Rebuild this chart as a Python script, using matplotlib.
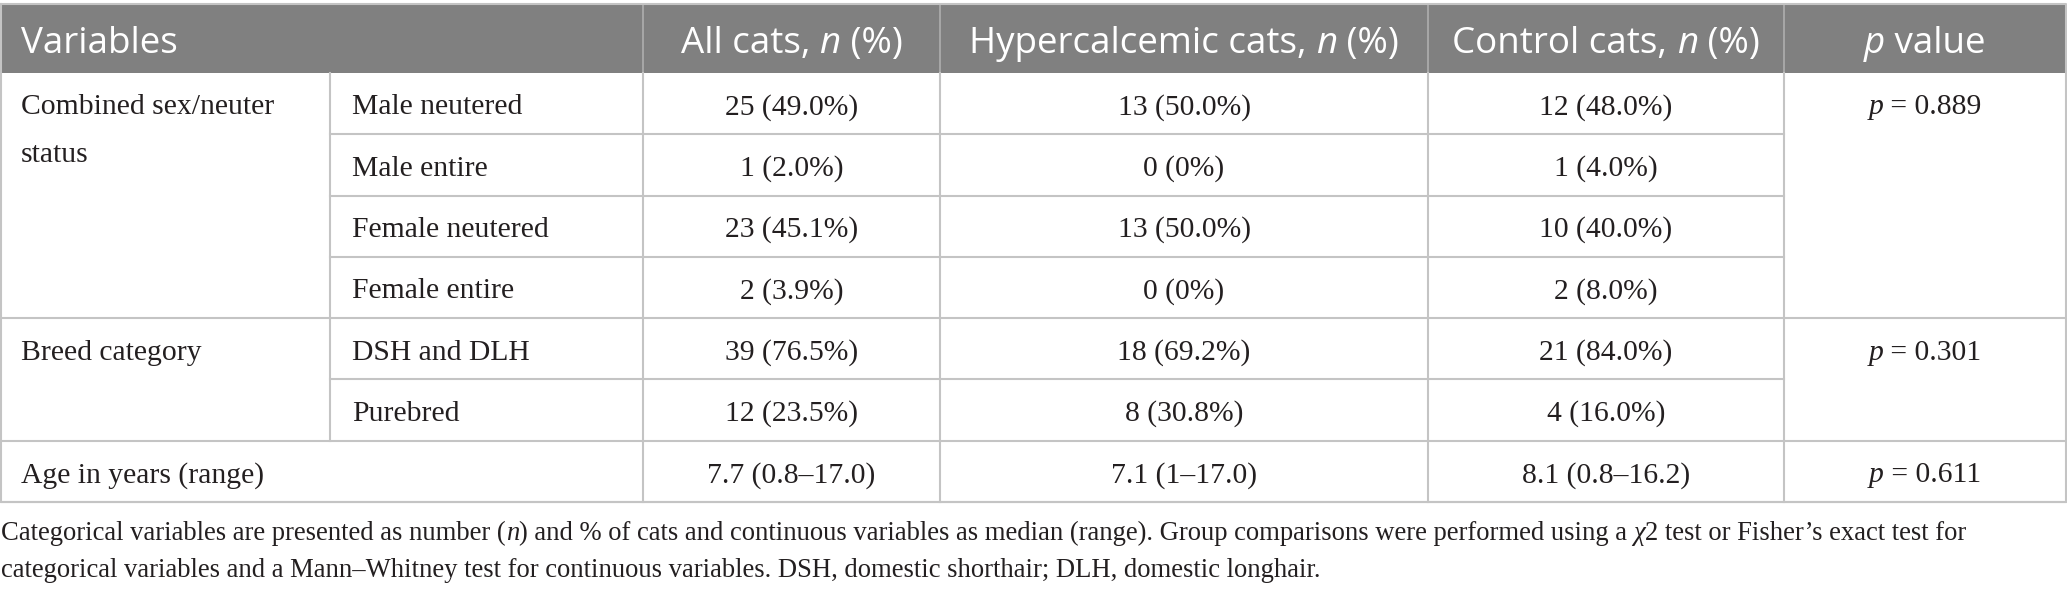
import matplotlib
matplotlib.use("Agg")
import matplotlib.pyplot as plt

# --- table content ---
header = [
    [("Variables", "normal")],
    [("All cats, ", "normal"), ("n", "italic"), (" (%)", "normal")],
    [("Hypercalcemic cats, ", "normal"), ("n", "italic"), (" (%)", "normal")],
    [("Control cats, ", "normal"), ("n", "italic"), (" (%)", "normal")],
    [("p", "italic"), (" value", "normal")],
]
groups = ["Combined sex/neuter\nstatus", "Breed category", "Age in years (range)"]
levels = [["Male neutered", "Male entire", "Female neutered", "Female entire"],
          ["DSH and DLH", "Purebred"],
          [None]]
all_cats = ["25 (49.0%)", "1 (2.0%)", "23 (45.1%)", "2 (3.9%)",
            "39 (76.5%)", "12 (23.5%)", "7.7 (0.8\u201317.0)"]
hyper_cats = ["13 (50.0%)", "0 (0%)", "13 (50.0%)", "0 (0%)",
              "18 (69.2%)", "8 (30.8%)", "7.1 (1\u201317.0)"]
control_cats = ["12 (48.0%)", "1 (4.0%)", "10 (40.0%)", "2 (8.0%)",
                "21 (84.0%)", "4 (16.0%)", "8.1 (0.8\u201316.2)"]
p_values = ["0.889", "0.301", "0.611"]
footnote = [
    [("Categorical variables are presented as number (", "normal"), ("n", "italic"),
     (") and % of cats and continuous variables as median (range). Group comparisons "
      "were performed using a ", "normal"), ("\u03c7", "italic"),
     ("2 test or Fisher\u2019s exact test for", "normal")],
    [("categorical variables and a Mann\u2013Whitney test for continuous variables. "
      "DSH, domestic shorthair; DLH, domestic longhair.", "normal")],
]

# --- layout (pixels) ---
W, H = 2067, 592
col_x = [0, 330, 643, 940, 1428, 1784, 2066]
head_top, head_bot, tab_bot = 4, 73, 502
n_rows = 7
row_h = (tab_bot - head_bot) / n_rows
pad = 21
head_font = dict(family=["Open Sans", "DejaVu Sans"], fontsize=26.5, color="white")
body_font = dict(family=["Liberation Serif", "DejaVu Serif"], fontsize=21.3, color="#231f20")
note_font = dict(family=["Liberation Serif", "DejaVu Serif"], fontsize=19.2, color="#231f20")
line_c = "#c4c4c4"
head_c = "#808080"

fig = plt.figure(figsize=(W / 100, H / 100), dpi=100)
ax = fig.add_axes([0, 0, 1, 1])
ax.set_xlim(0, W)
ax.set_ylim(H, 0)
ax.axis("off")
renderer = fig.canvas.get_renderer()


def text_w(s, **kw):
    t1 = ax.text(0, 0, "|" + s + "|", **kw)
    t2 = ax.text(0, 0, "||", **kw)
    w = t1.get_window_extent(renderer).width - t2.get_window_extent(renderer).width
    t1.remove()
    t2.remove()
    return w


def rich(x, y, parts, ha, font):
    widths = [text_w(s, style=st, **font) for s, st in parts]
    total = sum(widths)
    if ha == "center":
        x = x - total / 2
    for (s, st), w in zip(parts, widths):
        ax.text(x, y, s, style=st, ha="left", va="baseline", **font)
        x += w


# header
ax.fill_between([0, W - 1], head_top, head_bot, color=head_c, lw=0)
for i, parts in enumerate(header):
    if i == 0:
        rich(pad, 53, parts, "left", head_font)
    else:
        cx = (col_x[i + 1] + col_x[i + 2]) / 2
        rich(cx, 53, parts, "center", head_font)
for x in col_x[2:-1]:
    ax.plot([x, x], [head_top, head_bot], color="#a8a8a8", lw=1.4)

# body rows
row = 0
for g, (name, subs) in enumerate(zip(groups, levels)):
    top = head_bot + row * row_h
    base = top + 41.5
    for k, line in enumerate(name.split("\n")):
        ax.text(pad, base + k * 48, line, ha="left", va="baseline", **body_font)
    rich((col_x[5] + col_x[6]) / 2, base, [("p", "italic"), (" = " + p_values[g], "normal")],
         "center", body_font)
    for j, sub in enumerate(subs):
        yb = head_bot + (row + j) * row_h + 41.5
        if sub is not None:
            ax.text(col_x[1] + pad + 1, yb, sub, ha="left", va="baseline", **body_font)
        for c, vals in zip([2, 3, 4], [all_cats, hyper_cats, control_cats]):
            ax.text((col_x[c] + col_x[c + 1]) / 2, yb, vals[row + j],
                    ha="center", va="baseline", **body_font)
        if j > 0:
            yl = head_bot + (row + j) * row_h
            ax.plot([col_x[1], col_x[5]], [yl, yl], color=line_c, lw=1.5)
    row += len(subs)
    yl = head_bot + row * row_h
    ax.plot([0, W - 1], [yl, yl], color=line_c, lw=1.5)

# vertical lines in body
ax.plot([col_x[1], col_x[1]], [head_bot, head_bot + 6 * row_h], color=line_c, lw=1.5)
for x in col_x[2:-1]:
    ax.plot([x, x], [head_bot, tab_bot], color=line_c, lw=1.5)
# outer border
ax.plot([0.5, W - 1.5, W - 1.5, 0.5, 0.5], [head_top, head_top, tab_bot, tab_bot, head_top],
        color=line_c, lw=1.5)

# footnote
rich(1, 540, footnote[0], "left", note_font)
rich(1, 577, footnote[1], "left", note_font)

fig.savefig("out.png", dpi=100, facecolor="white")
